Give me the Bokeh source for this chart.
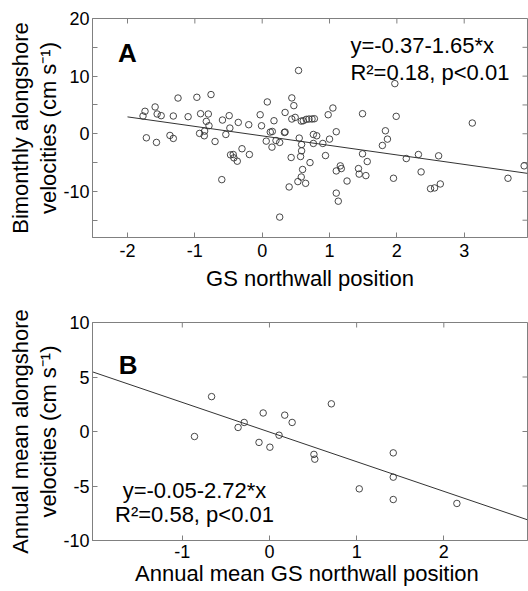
from bokeh.plotting import figure
from bokeh.layouts import column
from bokeh.models import LinearAxis, FixedTicker, Label, Range1d, Title
from bokeh.embed import file_html
from bokeh.resources import INLINE
import numpy as np

FONT = "Liberation Sans"

# ---------------- Panel A data (bimonthly) ----------------
a_x = [-1.77, -1.74, -1.72, -1.59, -1.57, -1.56, -1.50, -1.37, -1.32, -1.32,
       -1.25, -1.10, -0.97, -0.915, -0.93, -0.86, -0.855, -0.83, -0.80, -0.76,
       -0.79, -0.70, -0.59, -0.60, -0.54, -0.49, -0.48, -0.47, -0.43, -0.42,
       -0.37, -0.355, -0.30, -0.20, -0.19, -0.03, -0.01, 0.076, 0.06, 0.12,
       0.15, 0.145, 0.175, 0.205, 0.26, 0.26, 0.33, 0.34, 0.34, 0.40,
       0.43, 0.44, 0.44, 0.47, 0.49, 0.53, 0.54, 0.55, 0.57, 0.58,
       0.585, 0.60, 0.58, 0.585, 0.61, 0.645, 0.655, 0.695, 0.71, 0.74,
       0.775, 0.76, 0.81, 0.76, 0.90, 0.94, 1.00, 0.98, 1.05, 1.10,
       1.16, 1.175, 1.10, 1.10, 1.13, 1.26, 1.43, 1.44, 1.49, 1.49,
       1.54, 1.56, 1.785, 1.83, 1.86, 1.95, 1.97, 1.99, 2.14, 2.32,
       2.36, 2.50, 2.56, 2.645, 2.62, 3.12, 3.65, 3.89]
a_y = [3.08, 3.9, -0.7, 4.65, -1.5, 3.43, 3.14, -0.29, -0.81, 3.08,
       6.2, 2.96, 6.33, 3.48, 0.06, -0.35, 0.46, 2.15, 3.43, 6.8,
       1.39, -1.34, 2.38, -7.96, -0.12, 3.14, 0.99, -3.66, -3.6, -4.18,
       -4.76, 1.97, -2.6, 1.57, -3.6, 3.3, 1.39, 5.52, -1.28, 0.29,
       0.4, -2.32, 2.26, -1.17, -1.5, -14.46, 0.23, 0.3, 3.7, -9.23,
       -4.12, 6.22, 2.56, 4.88, 2.84, -8.3, 10.98, -0.75, -3.95, -7.5,
       -2.96, -6.2, 2.2, -1.86, 2.26, -8.6, 2.5, 2.56, -5.0, 2.56,
       2.61, -0.12, -0.35, -1.68, -1.68, -3.78, -0.93, 3.3, 4.47, 0.35,
       -5.57, -6.04, -6.45, -10.3, -11.7, -8.2, -6.04, -7.0, 3.48, -3.48,
       -7.26, -4.82, -2.03, 0.52, -0.93, -7.72, 8.7, 3.02, -4.3, -3.6,
       -6.62, -9.53, -9.4, -8.71, -3.83, 1.86, -7.72, -5.57]
a_fit = (-0.37, -1.65)          # intercept, slope (from the panel text)
a_fit_span = [-2.0, 3.94]

# ---------------- Panel B data (annual mean) ----------------
b_x = [-0.86, -0.664, -0.36, -0.29, -0.12, -0.072, 0.005, 0.11, 0.175, 0.26,
       0.51, 0.52, 0.71, 1.03, 1.42, 1.42, 1.42, 2.15]
b_y = [-0.46, 3.2, 0.37, 0.83, -1.0, 1.7, -1.44, -0.34, 1.5, 0.83,
       -2.1, -2.54, 2.54, -5.26, -1.96, -4.19, -6.24, -6.6]
b_fit = (-0.05, -2.72)
b_fit_span = [-2.03, 2.96]

a_xticks = [-2, -1, 0, 1, 2, 3]
a_yticks = [-10, 0, 10, 20]
a_yminor = [-15, -5, 5, 15]
b_xticks = [-1, 0, 1, 2]
b_yticks = [-10, -5, 0, 5, 10]

AX_COL = "#808080"
PT_COL = "#333333"


def style_axis(ax, ticks, minor=()):
    ax.ticker = FixedTicker(ticks=ticks, minor_ticks=list(minor))
    ax.major_label_overrides = {t: str(t) for t in ticks}
    ax.axis_line_color = AX_COL
    ax.major_tick_line_color = AX_COL
    ax.minor_tick_line_color = AX_COL
    ax.major_tick_in = 5
    ax.major_tick_out = 0
    ax.minor_tick_in = 5
    ax.minor_tick_out = 0
    ax.major_label_text_font = FONT
    ax.major_label_text_color = "black"
    ax.major_label_text_font_size = "18px"
    ax.axis_label_text_font = FONT
    ax.axis_label_text_font_style = "normal"
    ax.axis_label_text_color = "black"
    ax.axis_label_text_font_size = "22px"


def make_panel(xr, yr, height, xt, yt, ym, bborder, tborder, xlabel, ylab1, ylab2,
               lstand, xstand):
    p = figure(width=528, height=height, x_range=Range1d(*xr), y_range=Range1d(*yr),
               output_backend="svg", toolbar_location=None,
               x_axis_location=None, y_axis_location=None,
               min_border_left=92, min_border_right=1,
               min_border_top=tborder, min_border_bottom=bborder)
    p.grid.visible = False
    p.outline_line_color = AX_COL
    p.background_fill_color = "white"
    p.border_fill_color = "white"

    xb = LinearAxis(axis_label=xlabel)
    style_axis(xb, xt)
    xb.major_label_standoff = xstand[0]
    xb.axis_label_standoff = xstand[1]
    p.add_layout(xb, "below")

    yl = LinearAxis()
    style_axis(yl, yt, ym)
    yl.major_label_standoff = 3
    p.add_layout(yl, "left")
    # two-line y label, as stacked side titles (inner line first)
    for txt, st in ((ylab2, lstand[0]), (ylab1, lstand[1])):
        p.add_layout(Title(text=txt, align="center", text_font=FONT,
                           text_font_size="22px", text_font_style="normal",
                           text_color="black", standoff=st), "left")

    # inward ticks on the top and right frame edges (half of each dash is clipped)
    p.scatter(xt, [yr[1]] * len(xt), marker="dash", size=10, angle=np.pi / 2,
              line_color=AX_COL, line_width=1)
    yall = list(yt) + list(ym)
    p.scatter([xr[1]] * len(yall), yall, marker="dash", size=10,
              line_color=AX_COL, line_width=1)
    return p


def lab(p, x, y, text, size="22px", bold=False, align="left"):
    p.add_layout(Label(x=x, y=y, text=text, text_font=FONT, text_font_size=size,
                       text_font_style="bold" if bold else "normal",
                       text_color="black", text_align=align,
                       text_baseline="alphabetic"))


# ---------------- Panel A ----------------
p1 = make_panel((-2.52, 3.94), (-18, 20), 298, a_xticks, a_yticks, a_yminor, 61, 18,
                "GS northwall position", "Bimonthly alongshore",
                "velocities (cm s\u207b\u00b9)", (0, 2), (6, 6))
p1.scatter(a_x, a_y, size=6.5, marker="circle", fill_color=None,
           line_color=PT_COL, line_width=0.9)
fx = np.array(a_fit_span)
p1.line(fx, a_fit[0] + a_fit[1] * fx, line_color=PT_COL, line_width=1)
lab(p1, -2.14, 13.94, "A", size="26px", bold=True)
lab(p1, 1.31, 15.33, "y=-0.37-1.65*x")
lab(p1, 1.31, 10.63, "R\u00b2=0.18, p<0.01")

# ---------------- Panel B ----------------
p2 = make_panel((-2.03, 2.96), (-10, 10), 292, b_xticks, b_yticks, [], 50, 24,
                "Annual mean GS  northwall position", "Annual mean alongshore",
                "velocities (cm s\u207b\u00b9)", (0, 2), (4, 0))
p2.scatter(b_x, b_y, size=6.5, marker="circle", fill_color=None,
           line_color=PT_COL, line_width=0.9)
gx = np.array(b_fit_span)
p2.line(gx, b_fit[0] + b_fit[1] * gx, line_color=PT_COL, line_width=1)
lab(p2, -1.73, 6.06, "B", size="26px", bold=True)
lab(p2, -0.86, -5.41, "y=-0.05-2.72*x", align="center")
lab(p2, -0.86, -7.61, "R\u00b2=0.58, p<0.01", align="center")

layout = column(p1, p2, spacing=0)
open("out.html", "w").write(file_html(layout, INLINE))
